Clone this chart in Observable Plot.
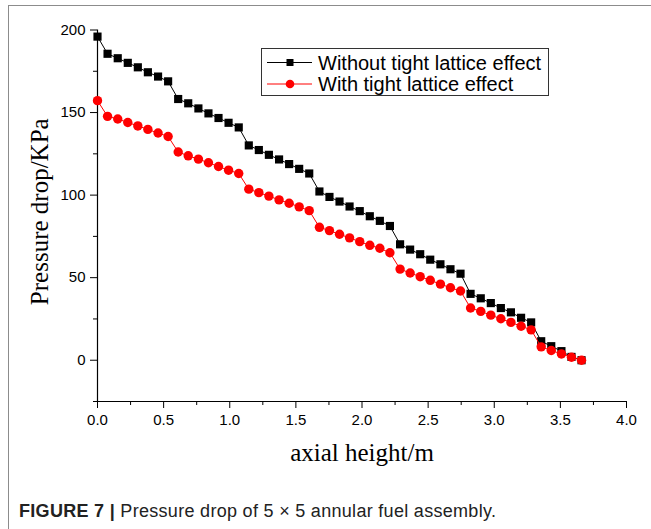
<!DOCTYPE html>
<html>
<head>
<meta charset="utf-8">
<script src="https://cdn.jsdelivr.net/npm/d3@7"></script>
<script src="https://cdn.jsdelivr.net/npm/@observablehq/plot@0.6"></script>
<style>
  html, body { margin: 0; padding: 0; background: #fff; }
  #fig { position: relative; width: 651px; height: 529px; overflow: hidden; background: #fff; }
  #frame { position: absolute; left: 8px; top: 5px; right: -5px; bottom: -5px; border-top: 1.5px solid #8c8c8c; border-left: 1.5px solid #8c8c8c; }
  #chart { position: absolute; left: 0; top: 0; }
  #legend { position: absolute; left: 261px; top: 48px; }
  #caption { position: absolute; left: 19px; top: 501px; font-family: "Liberation Sans", Arial, sans-serif; font-size: 18px; letter-spacing: 0.3px; color: #222; white-space: nowrap; }
  #caption b { font-weight: bold; }
</style>
</head>
<body>
<div id="fig">
  <div id="frame"></div>
  <div id="chart"></div>
  <div id="legend"></div>
  <div id="caption"></div>
</div>
<script>
// ---- data ----
const axialHeight = [0, 0.076, 0.153, 0.229, 0.305, 0.381, 0.458, 0.534, 0.610, 0.686,
  0.763, 0.839, 0.915, 0.991, 1.068, 1.144, 1.220, 1.296, 1.373, 1.449,
  1.525, 1.601, 1.678, 1.754, 1.830, 1.906, 1.983, 2.059, 2.135, 2.211,
  2.288, 2.364, 2.440, 2.516, 2.593, 2.669, 2.745, 2.821, 2.898, 2.974,
  3.050, 3.126, 3.203, 3.279, 3.355, 3.431, 3.508, 3.584, 3.660];
const withoutTight = [196.0, 185.6, 182.9, 180.1, 177.4, 174.4, 171.8, 168.9, 158.2, 155.6,
  152.5, 149.5, 146.7, 143.8, 141.0, 130.1, 127.3, 124.4, 121.6, 118.8,
  115.9, 113.1, 102.2, 98.9, 96.1, 93.1, 90.3, 87.2, 84.4, 81.3,
  70.2, 67.0, 64.2, 60.9, 58.1, 55.1, 52.4, 40.2, 37.5, 34.6,
  31.6, 29.0, 25.7, 22.9, 11.5, 8.5, 5.5, 2.0, 0.0];
const withTight = [157.2, 147.7, 146.1, 144.0, 141.9, 139.8, 137.6, 135.5, 126.1, 123.8,
  121.8, 119.6, 117.3, 115.1, 113.1, 103.6, 101.5, 99.4, 97.1, 95.1,
  92.9, 90.6, 80.5, 78.5, 76.3, 74.1, 71.8, 69.6, 67.8, 65.1,
  55.2, 52.8, 50.6, 48.4, 46.1, 43.9, 41.9, 31.6, 29.6, 27.3,
  25.1, 22.9, 20.6, 18.4, 8.1, 5.9, 3.8, 1.8, 0.0];
const seriesNames = ["Without tight lattice effect", "With tight lattice effect"];
const xTicks = [0, 0.5, 1.0, 1.5, 2.0, 2.5, 3.0, 3.5, 4.0];
const xMinorTicks = [0.25, 0.75, 1.25, 1.75, 2.25, 2.75, 3.25, 3.75];
const yTicks = [0, 50, 100, 150, 200];
const yMinorTicks = [-25, 25, 75, 125, 175];
const xTitle = "axial height/m";
const yTitle = "Pressure drop/KPa";
const captionBold = "FIGURE 7 |";
const captionText = " Pressure drop of 5 × 5 annular fuel assembly.";

const black = axialHeight.map((x, i) => ({x, y: withoutTight[i]}));
const red = axialHeight.map((x, i) => ({x, y: withTight[i]}));

const chart = Plot.plot({
  width: 651,
  height: 490,
  marginLeft: 97,
  marginRight: 25,
  marginTop: 29.5,
  marginBottom: 89,
  x: {domain: [0, 4], label: null},
  y: {domain: [-25, 200], label: null},
  style: {fontFamily: "Liberation Sans, Arial, sans-serif", color: "#000", background: "transparent", overflow: "visible"},
  marks: [
    Plot.axisY(yTicks, {tickSize: 7, tickPadding: 5, fontSize: 15, label: null, stroke: "#000"}),
    Plot.axisY(yMinorTicks, {tickSize: 4, tickFormat: () => "", label: null, stroke: "#000"}),
    Plot.axisX(xTicks, {tickSize: 7, tickPadding: 6, fontSize: 15, tickFormat: d3.format(".1f"), label: null, stroke: "#000"}),
    Plot.axisX(xMinorTicks, {tickSize: 4, tickFormat: () => "", label: null, stroke: "#000"}),
    Plot.ruleX([0], {stroke: "#000", strokeWidth: 1.2}),
    Plot.ruleY([-25], {stroke: "#000", strokeWidth: 1.2}),
    Plot.line(black, {x: "x", y: "y", stroke: "#000", strokeWidth: 1}),
    Plot.dot(black, {x: "x", y: "y", symbol: "square", r: 4.6, fill: "#000", stroke: "none"}),
    Plot.line(red, {x: "x", y: "y", stroke: "#ff0000", strokeWidth: 1}),
    Plot.dot(red, {x: "x", y: "y", symbol: "circle", r: 4.7, fill: "#ff0000", stroke: "none"}),
    Plot.text([xTitle], {text: d => d, frameAnchor: "bottom", textAnchor: "middle", dy: 51, lineAnchor: "middle", fontSize: 25, fontFamily: "Liberation Serif, Times New Roman, serif", fill: "#000"}),
    Plot.text([yTitle], {text: d => d, frameAnchor: "left", textAnchor: "middle", rotate: -90, dx: -58, dy: -4, lineAnchor: "middle", fontSize: 25, fontFamily: "Liberation Serif, Times New Roman, serif", fill: "#000"})
  ]
});
document.getElementById("chart").appendChild(chart);

// legend
const ns = "http://www.w3.org/2000/svg";
const lw = 288, lh = 48;
const lsvg = document.createElementNS(ns, "svg");
lsvg.setAttribute("width", lw);
lsvg.setAttribute("height", lh);
lsvg.style.fontFamily = "Liberation Sans, Arial, sans-serif";
const box = document.createElementNS(ns, "rect");
box.setAttribute("x", 0.5); box.setAttribute("y", 0.5);
box.setAttribute("width", lw - 1); box.setAttribute("height", lh - 1);
box.setAttribute("fill", "#fff"); box.setAttribute("stroke", "#333"); box.setAttribute("stroke-width", 1);
lsvg.appendChild(box);
const colors = ["#000", "#ff0000"];
seriesNames.forEach((name, i) => {
  const cy = 14.5 + i * 21.5;
  const ln = document.createElementNS(ns, "line");
  ln.setAttribute("x1", 6); ln.setAttribute("x2", 51); ln.setAttribute("y1", cy); ln.setAttribute("y2", cy);
  ln.setAttribute("stroke", colors[i]); ln.setAttribute("stroke-width", 1);
  lsvg.appendChild(ln);
  if (i === 0) {
    const sq = document.createElementNS(ns, "rect");
    sq.setAttribute("x", 25.5); sq.setAttribute("y", cy - 3.5); sq.setAttribute("width", 7); sq.setAttribute("height", 7);
    sq.setAttribute("fill", colors[i]);
    lsvg.appendChild(sq);
  } else {
    const c = document.createElementNS(ns, "circle");
    c.setAttribute("cx", 29); c.setAttribute("cy", cy); c.setAttribute("r", 4.3);
    c.setAttribute("fill", colors[i]);
    lsvg.appendChild(c);
  }
  const t = document.createElementNS(ns, "text");
  t.setAttribute("x", 57); t.setAttribute("y", cy); t.setAttribute("dy", "0.35em");
  t.setAttribute("font-size", 20); t.setAttribute("fill", "#000");
  t.textContent = name;
  lsvg.appendChild(t);
});
document.getElementById("legend").appendChild(lsvg);

// caption
const cap = document.getElementById("caption");
const b = document.createElement("b");
b.textContent = captionBold;
cap.appendChild(b);
cap.appendChild(document.createTextNode(captionText));
</script>
</body>
</html>
